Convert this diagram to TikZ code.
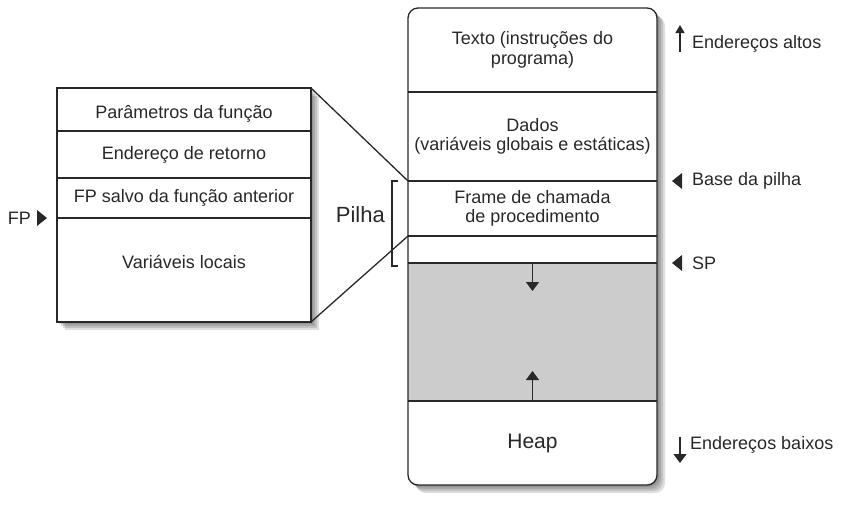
\documentclass[tikz,border=0pt]{standalone}
\usepackage{fontspec}
\setmainfont{Liberation Sans}
\usetikzlibrary{positioning}
\usetikzlibrary{arrows.meta}
\usetikzlibrary{backgrounds}
\definecolor{ink}{RGB}{40,40,40}
\definecolor{livre}{RGB}{204,204,204}

\begin{document}
\begin{tikzpicture}[
    x=1pt, y=-1pt,
    seg/.style={rectangle, inner sep=0pt, outer sep=0pt, minimum width=249pt, align=center, text=ink, font=\fontsize{18}{19.5}\selectfont},
    cel/.style={rectangle, draw=ink, line width=1.3pt, inner sep=0pt, outer sep=0pt, minimum width=254pt, align=center, text=ink, font=\fontsize{18}{19.5}\selectfont},
    lbl/.style={inner sep=0pt, anchor=west, text=ink, font=\fontsize{18}{19.5}\selectfont},
    big/.style={inner sep=0pt, text=ink, font=\fontsize{22}{24}\selectfont},
    sombra/.style={black, opacity=0.13},
    ln/.style={draw=ink, line width=1.3pt},
    >={Triangle[width=13pt,length=9pt]}
]
    \useasboundingbox (0,0) rectangle (842,515);

    % memoria do processo
    \node[seg, anchor=north, minimum height=84pt] (texto) at (532.5,8) {Texto (instruções do\\programa)};
    \node[seg, below=0pt of texto, minimum height=89pt] (dados) {Dados\\(variáveis globais e estáticas)};
    \node[seg, below=0pt of dados, minimum height=55pt] (frame) {Frame de chamada\\de procedimento};
    \node[seg, below=0pt of frame, minimum height=27pt] (topo) {};
    \node[seg, below=0pt of topo, minimum height=138pt, fill=livre] (livre) {};
    \node[seg, below=0pt of livre, minimum height=84pt, font=\fontsize{21}{24}\selectfont] (heap) {Heap};

    % quadro da chamada
    \node[cel, anchor=north, minimum height=43pt, text height=22pt] (param) at (184,88) {Parâmetros da função};
    \node[cel, below=0pt of param, minimum height=47pt] (retorno) {Endereço de retorno};
    \node[cel, below=0pt of retorno, minimum height=40pt] (fpant) {FP salvo da função anterior};
    \node[cel, below=0pt of fpant, minimum height=104pt, text depth=16pt] (locais) {Variáveis locais};

    % sombras
    \begin{scope}[on background layer]
        \foreach \d in {2,4,6,8} {
            \fill[sombra, rounded corners=10pt] ([shift={(\d pt,-\d pt)}]texto.north west) rectangle ([shift={(\d pt,-\d pt)}]heap.south east);
            \fill[sombra] ([shift={(\d pt,-\d pt)}]param.north west) rectangle ([shift={(\d pt,-\d pt)}]locais.south east);
        }
        \fill[white, rounded corners=10pt] (texto.north west) rectangle (heap.south east);
        \fill[white] (param.north west) rectangle (locais.south east);
    \end{scope}

    \draw[ln, rounded corners=10pt] (texto.north west) rectangle (heap.south east);
    \foreach \s in {texto, dados, frame, topo, livre}
        \draw[ln] (\s.south west) -- (\s.south east);
    \draw[ln, ->] (livre.north) -- ++(0,28);
    \draw[ln, ->] (livre.south) -- ++(0,-30);

    % ligacoes
    \draw[ln] (param.north east) -- (frame.north west);
    \draw[ln] (locais.south east) -- (topo.north west);

    % pilha
    \draw[ln] ([xshift=-10pt]frame.north west) -- ++(-6,0) |- ([xshift=-10pt,yshift=-3pt]livre.north west);
    \node[big, anchor=east] (pilha) at (385,215) {Pilha};

    % marcadores
    \node[lbl, left=26pt of fpant.south west] (fp) {FP};
    \fill[ink] ([xshift=16pt]fp.east) -- ++(-10,-8) -- ++(0,16) -- cycle;
    \node[lbl, right=35pt of frame.north east] (base) {Base da pilha};
    \fill[ink] ([xshift=-20pt]base.west) -- ++(10,-8) -- ++(0,16) -- cycle;
    \node[lbl, right=35pt of livre.north east] (sp) {SP};
    \fill[ink] ([xshift=-20pt]sp.west) -- ++(10,-8) -- ++(0,16) -- cycle;

    \node[lbl] (altos) at (692,44) {Endereços altos};
    \draw[ln, -{Triangle[width=9pt,length=8pt]}] ([xshift=-12pt,yshift=-8pt]altos.west) -- ++(0,-27);
    \node[lbl] (baixos) at (690,445) {Endereços baixos};
    \draw[ln, ->] ([xshift=-10pt,yshift=8pt]baixos.west) -- ++(0,26);
\end{tikzpicture}
\end{document}
